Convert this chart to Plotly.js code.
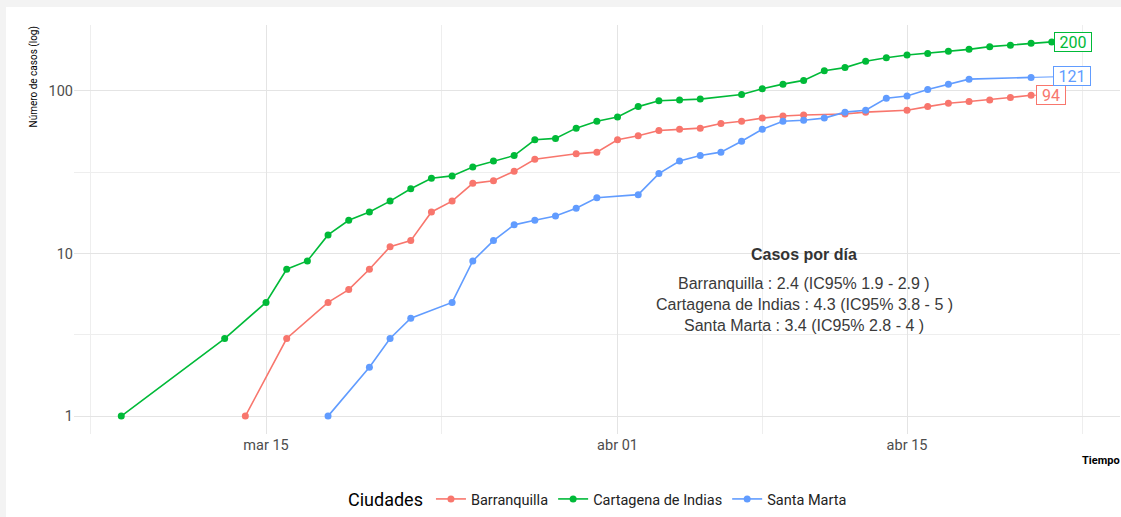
<!DOCTYPE html>
<html>
<head>
<meta charset="utf-8">
<script src="https://cdn.plot.ly/plotly-3.0.1.min.js"></script>
<style>
  html, body { margin: 0; padding: 0; background: #f3f3f3; }
  #chart { width: 1121px; height: 517px; }
</style>
</head>
<body>
<div id="chart"></div>
<script>
// ---- data ----
const ciudades = ['Barranquilla', 'Cartagena de Indias', 'Santa Marta'];
const colores = ['#F8766D', '#00BA38', '#619CFF'];

const fechasBarranquilla = ['2020-03-14','2020-03-16','2020-03-18','2020-03-19','2020-03-20','2020-03-21','2020-03-22','2020-03-23','2020-03-24','2020-03-25','2020-03-26','2020-03-27','2020-03-28','2020-03-30','2020-03-31','2020-04-01','2020-04-02','2020-04-03','2020-04-04','2020-04-05','2020-04-06','2020-04-07','2020-04-08','2020-04-09','2020-04-10','2020-04-12','2020-04-13','2020-04-15','2020-04-16','2020-04-17','2020-04-18','2020-04-19','2020-04-20','2020-04-21'];
const casosBarranquilla = [1,3,5,6,8,11,12,18,21,27,28,32,38,41,42,50,53,57,58,59,63,65,68,70,71,72,74,76,80,84,86,88,91,94];

const fechasCartagena = ['2020-03-08','2020-03-13','2020-03-15','2020-03-16','2020-03-17','2020-03-18','2020-03-19','2020-03-20','2020-03-21','2020-03-22','2020-03-23','2020-03-24','2020-03-25','2020-03-26','2020-03-27','2020-03-28','2020-03-29','2020-03-30','2020-03-31','2020-04-01','2020-04-02','2020-04-03','2020-04-04','2020-04-05','2020-04-07','2020-04-08','2020-04-09','2020-04-10','2020-04-11','2020-04-12','2020-04-13','2020-04-14','2020-04-15','2020-04-16','2020-04-17','2020-04-18','2020-04-19','2020-04-20','2020-04-21','2020-04-22'];
const casosCartagena = [1,3,5,8,9,13,16,18,21,25,29,30,34,37,40,50,51,59,65,69,80,87,88,89,95,103,110,116,133,139,152,160,166,170,175,180,187,191,196,200];

const fechasSantaMarta = ['2020-03-18','2020-03-20','2020-03-21','2020-03-22','2020-03-24','2020-03-25','2020-03-26','2020-03-27','2020-03-28','2020-03-29','2020-03-30','2020-03-31','2020-04-02','2020-04-03','2020-04-04','2020-04-05','2020-04-06','2020-04-07','2020-04-08','2020-04-09','2020-04-10','2020-04-11','2020-04-12','2020-04-13','2020-04-14','2020-04-15','2020-04-16','2020-04-17','2020-04-18','2020-04-21'];
const casosSantaMarta = [1,2,3,4,5,9,12,15,16,17,19,22,23,31,37,40,42,49,58,65,66,68,74,76,90,93,102,110,118,121];

const xTickVals = ['2020-03-15', '2020-04-01', '2020-04-15'];
const xTickText = ['mar 15', 'abr 01', 'abr 15'];
const xMinorVals = ['2020-03-06 12:00', '2020-03-23 12:00', '2020-04-08', '2020-04-23 12:00'];
const yTickVals = [1, 10, 100];
const yTickText = ['1', '10', '100'];
const yMinorVals = [3.1623, 31.623];

const tituloResumen = 'Casos por día';
const lineasResumen = [
  'Barranquilla : 2.4 (IC95% 1.9 - 2.9 )',
  'Cartagena de Indias : 4.3 (IC95% 3.8 - 5 )',
  'Santa Marta : 3.4 (IC95% 2.8 - 4 )'
];

// ---- build ----
const series = [
  {x: fechasBarranquilla, y: casosBarranquilla},
  {x: fechasCartagena, y: casosCartagena},
  {x: fechasSantaMarta, y: casosSantaMarta}
];

const traces = series.map((s, i) => ({
  type: 'scatter',
  mode: 'lines+markers',
  name: ciudades[i],
  x: s.x,
  y: s.y,
  line: {color: colores[i], width: 1.6},
  marker: {color: colores[i], size: 7},
  hoverinfo: 'x+y+name'
}));

// end labels
const labelOffsets = [
  {ax: 20, ay: 0, w: 26},
  {ax: 21, ay: 0, w: 34},
  {ax: 41, ay: -1, w: 34}
];
const annotations = series.map((s, i) => ({
  x: s.x[s.x.length - 1],
  y: Math.log10(s.y[s.y.length - 1]),
  xref: 'x', yref: 'y',
  text: String(s.y[s.y.length - 1]),
  showarrow: true,
  arrowhead: 0,
  arrowwidth: 1,
  arrowcolor: colores[i],
  ax: labelOffsets[i].ax,
  ay: labelOffsets[i].ay,
  standoff: 0,
  font: {family: 'Roboto, sans-serif', size: 16, color: colores[i]},
  bgcolor: '#ffffff',
  bordercolor: colores[i],
  borderwidth: 1,
  borderpad: 1,
  width: labelOffsets[i].w,
  height: 16
}));

annotations.push({
  xref: 'paper', yref: 'paper', x: (804 - 74) / 1046, y: (435 - 255) / 410,
  xanchor: 'center', yanchor: 'middle', showarrow: false,
  text: '<b>' + tituloResumen + '</b>',
  font: {family: 'Liberation Sans, Arial, sans-serif', size: 16, color: '#333333'}
});
lineasResumen.forEach((t, k) => {
  annotations.push({
    xref: 'paper', yref: 'paper', x: (804 - 74) / 1046, y: (435 - (284 + 21 * k)) / 410,
    xanchor: 'center', yanchor: 'middle', showarrow: false,
    text: t,
    font: {family: 'Liberation Sans, Arial, sans-serif', size: 16, color: '#3a3a3a'}
  });
});

// axis titles
annotations.push({
  xref: 'paper', yref: 'paper', x: (33 - 74) / 1046, y: 1, xanchor: 'center', yanchor: 'top',
  showarrow: false, textangle: -90, text: 'Número de casos (log)',
  font: {family: 'Roboto, sans-serif', size: 10, color: '#000000'}
});
annotations.push({
  xref: 'paper', yref: 'paper', x: (1122 - 74) / 1046, y: (435 - 462) / 410, xanchor: 'right', yanchor: 'middle',
  showarrow: false, text: '<b>Tiempo</b>',
  font: {family: 'Roboto, sans-serif', size: 11, color: '#000000'}
});

const layout = {
  width: 1121, height: 517,
  margin: {l: 74, r: 1, t: 25, b: 82},
  paper_bgcolor: '#f3f3f3',
  plot_bgcolor: 'rgba(0,0,0,0)',
  showlegend: true,
  font: {family: 'Roboto, sans-serif'},
  xaxis: {
    type: 'date',
    range: ['2020-03-05 17:08', '2020-04-25 07:12'],
    tickmode: 'array', tickvals: xTickVals, ticktext: xTickText,
    tickfont: {family: 'Roboto, sans-serif', size: 14.5, color: '#4d4d4d'},
    showgrid: true, gridcolor: '#e4e4e4', gridwidth: 1,
    minor: {tickmode: 'array', tickvals: xMinorVals, showgrid: true, gridcolor: '#eeeeee', gridwidth: 1, ticks: ''},
    zeroline: false, showline: false, ticks: '',
    fixedrange: true
  },
  yaxis: {
    type: 'log',
    range: [-0.11, 2.405],
    tickmode: 'array', tickvals: yTickVals, ticktext: yTickText,
    tickfont: {family: 'Roboto, sans-serif', size: 14.5, color: '#4d4d4d'},
    showgrid: true, gridcolor: '#e4e4e4', gridwidth: 1,
    minor: {tickmode: 'array', tickvals: yMinorVals, showgrid: true, gridcolor: '#eeeeee', gridwidth: 1, ticks: ''},
    zeroline: false, showline: false, ticks: '',
    fixedrange: true
  },
  legend: {
    orientation: 'h',
    x: (599 - 74) / 1046, xanchor: 'center',
    y: (435 - 500) / 410, yanchor: 'middle',
    title: {text: 'Ciudades', side: 'left', font: {family: 'Roboto, sans-serif', size: 18, color: '#000000'}},
    font: {family: 'Roboto, sans-serif', size: 14.5, color: '#222222'},
    bgcolor: 'rgba(0,0,0,0)'
  },
  shapes: [{
    type: 'rect', xref: 'paper', yref: 'paper', layer: 'below',
    x0: (6 - 74) / 1046, x1: (1125 - 74) / 1046,
    y0: (435 - 520) / 410, y1: (435 - 7) / 410,
    fillcolor: '#ffffff', line: {width: 0}
  }],
  annotations: annotations
};

Plotly.newPlot('chart', traces, layout, {displayModeBar: false, staticPlot: true});
</script>
</body>
</html>
